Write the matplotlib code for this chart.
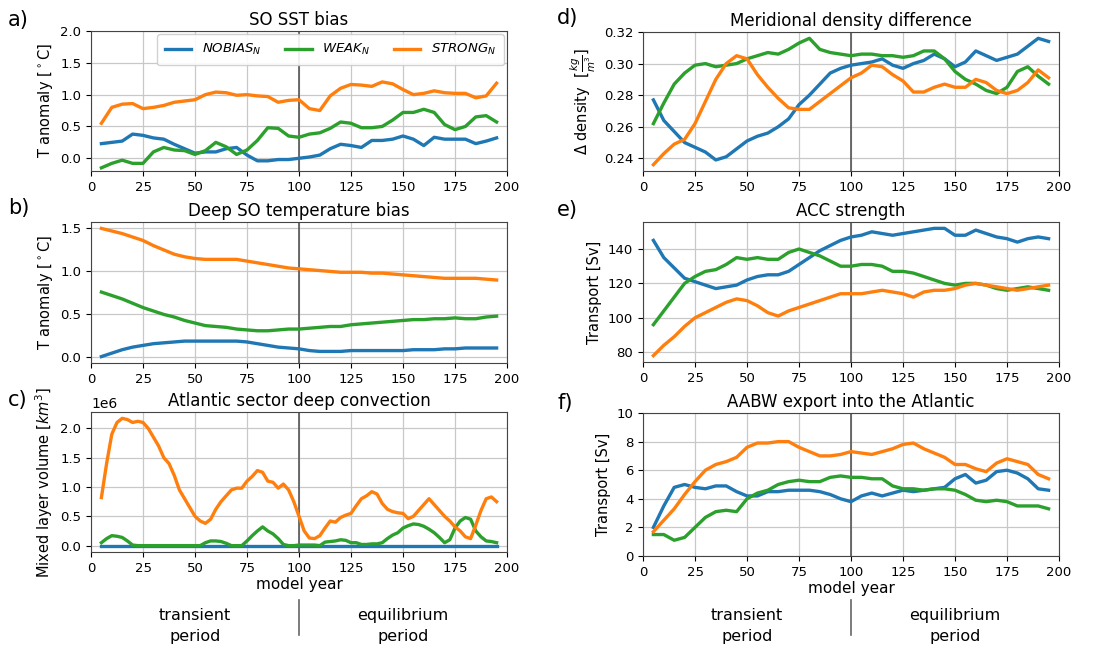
import numpy as np
import matplotlib
matplotlib.use("Agg")
import matplotlib.pyplot as plt
from matplotlib.lines import Line2D
from matplotlib.transforms import blended_transform_factory

# ---------------- data ----------------
years = list(range(5, 200, 5))                       # 5 .. 195 step 5
years_c = [5 + 2.5 * i for i in range(77)]           # 5 .. 195 step 2.5 (panel c)

series_names = [r"$NOBIAS_N$", r"$WEAK_N$", r"$STRONG_N$"]
colors = ["#1f77b4", "#2ca02c", "#ff7f0e"]

# a) SO SST bias
sst_nobias = [0.23, 0.25, 0.27, 0.38, 0.36, 0.32, 0.30, 0.22, 0.15, 0.08,
              0.10, 0.10, 0.15, 0.17, 0.05, -0.04, -0.04, -0.02, -0.02, 0.00,
              0.02, 0.05, 0.15, 0.22, 0.20, 0.17, 0.28, 0.28, 0.30, 0.35,
              0.30, 0.20, 0.33, 0.30, 0.30, 0.30, 0.23, 0.27, 0.32]
sst_weak = [-0.15, -0.08, -0.03, -0.08, -0.08, 0.10, 0.17, 0.13, 0.12, 0.06,
            0.12, 0.25, 0.18, 0.06, 0.13, 0.28, 0.48, 0.47, 0.35, 0.33,
            0.38, 0.40, 0.47, 0.57, 0.55, 0.48, 0.48, 0.50, 0.60, 0.72,
            0.72, 0.77, 0.72, 0.53, 0.45, 0.50, 0.65, 0.67, 0.57]
sst_strong = [0.55, 0.80, 0.85, 0.86, 0.78, 0.80, 0.83, 0.88, 0.90, 0.92,
              1.00, 1.04, 1.03, 0.99, 1.00, 0.98, 0.97, 0.88, 0.91, 0.92,
              0.78, 0.75, 0.98, 1.10, 1.16, 1.15, 1.13, 1.20, 1.17, 1.08,
              1.00, 1.02, 1.06, 1.03, 1.02, 1.02, 0.95, 0.98, 1.18]

# b) Deep SO temperature bias
deep_nobias = [0.01, 0.05, 0.09, 0.12, 0.14, 0.16, 0.17, 0.18, 0.19, 0.19,
               0.19, 0.19, 0.19, 0.19, 0.18, 0.16, 0.14, 0.12, 0.11, 0.10,
               0.08, 0.07, 0.07, 0.07, 0.08, 0.08, 0.08, 0.08, 0.08, 0.08,
               0.09, 0.09, 0.09, 0.10, 0.10, 0.11, 0.11, 0.11, 0.11]
deep_weak = [0.76, 0.72, 0.68, 0.63, 0.58, 0.54, 0.50, 0.47, 0.43, 0.40,
             0.37, 0.36, 0.35, 0.33, 0.32, 0.31, 0.31, 0.32, 0.33, 0.33,
             0.34, 0.35, 0.36, 0.36, 0.38, 0.39, 0.40, 0.41, 0.42, 0.43,
             0.44, 0.44, 0.45, 0.45, 0.46, 0.45, 0.45, 0.47, 0.48]
deep_strong = [1.50, 1.47, 1.44, 1.40, 1.36, 1.30, 1.25, 1.20, 1.17, 1.15,
               1.14, 1.14, 1.14, 1.14, 1.12, 1.10, 1.08, 1.06, 1.04, 1.03,
               1.02, 1.01, 1.00, 0.99, 0.99, 0.99, 0.98, 0.98, 0.97, 0.96,
               0.95, 0.94, 0.93, 0.92, 0.92, 0.92, 0.92, 0.91, 0.90]

# c) Atlantic sector deep convection (1e6 km^3), step 2.5 years
conv_nobias = [0.0] * 77
conv_weak = [0.05, 0.12, 0.17, 0.16, 0.14, 0.08, 0.01, 0.0, 0.0, 0.0,      # 5 - 27.5
             0.0, 0.0, 0.0, 0.0, 0.0, 0.0, 0.0, 0.0, 0.0, 0.0,             # 30 - 52.5
             0.05, 0.08, 0.08, 0.07, 0.04, 0.0, 0.0, 0.0, 0.08, 0.17,      # 55 - 77.5
             0.25, 0.32, 0.25, 0.20, 0.12, 0.02, 0.0, 0.0, 0.01, 0.01,     # 80 - 102.5
             0.01, 0.01, 0.0, 0.06, 0.07, 0.08, 0.10, 0.09, 0.05, 0.05,    # 105 - 127.5
             0.02, 0.02, 0.03, 0.03, 0.05, 0.12, 0.18, 0.22, 0.30, 0.34,   # 130 - 152.5
             0.37, 0.36, 0.33, 0.28, 0.22, 0.14, 0.05, 0.10, 0.30, 0.42,   # 155 - 177.5
             0.48, 0.45, 0.25, 0.15, 0.08, 0.07, 0.05]                     # 180 - 195
conv_strong = [0.82, 1.4, 1.9, 2.1, 2.17, 2.15, 2.1, 2.12, 2.1, 2.0,
               1.85, 1.7, 1.5, 1.4, 1.2, 0.95, 0.8, 0.65, 0.5, 0.42,
               0.38, 0.45, 0.62, 0.75, 0.85, 0.95, 0.98, 0.98, 1.1, 1.18,
               1.28, 1.25, 1.1, 1.08, 0.98, 1.05, 0.95, 0.75, 0.5, 0.25,
               0.13, 0.12, 0.17, 0.3, 0.42, 0.4, 0.48, 0.52, 0.55, 0.68,
               0.8, 0.85, 0.92, 0.88, 0.72, 0.62, 0.58, 0.56, 0.55, 0.46,
               0.5, 0.6, 0.7, 0.8, 0.7, 0.6, 0.5, 0.42, 0.32, 0.25,
               0.15, 0.12, 0.35, 0.6, 0.8, 0.83, 0.75]

# d) Meridional density difference (kg/m^3)
dens_nobias = [0.277, 0.264, 0.257, 0.250, 0.247, 0.244, 0.239, 0.241, 0.246, 0.251,
               0.254, 0.256, 0.260, 0.265, 0.274, 0.280, 0.287, 0.294, 0.297, 0.299,
               0.300, 0.301, 0.303, 0.299, 0.297, 0.300, 0.302, 0.306, 0.303, 0.298,
               0.301, 0.308, 0.305, 0.302, 0.304, 0.306, 0.311, 0.316, 0.314]
dens_weak = [0.262, 0.275, 0.287, 0.294, 0.299, 0.300, 0.298, 0.299, 0.300, 0.303,
             0.305, 0.307, 0.306, 0.309, 0.313, 0.316, 0.309, 0.307, 0.306, 0.305,
             0.306, 0.306, 0.305, 0.305, 0.304, 0.305, 0.308, 0.308, 0.303, 0.295,
             0.290, 0.287, 0.283, 0.281, 0.285, 0.295, 0.298, 0.292, 0.287]
dens_strong = [0.236, 0.243, 0.249, 0.252, 0.262, 0.276, 0.290, 0.300, 0.305, 0.303,
               0.293, 0.285, 0.278, 0.272, 0.271, 0.271, 0.276, 0.281, 0.286, 0.291,
               0.294, 0.299, 0.298, 0.293, 0.289, 0.282, 0.282, 0.285, 0.287, 0.285,
               0.285, 0.290, 0.288, 0.283, 0.281, 0.283, 0.288, 0.296, 0.291]

# e) ACC strength (Sv)
acc_nobias = [145, 135, 129, 123, 121, 119, 117, 118, 119, 122,
              124, 125, 125, 127, 131, 135, 139, 142, 145, 147,
              148, 150, 149, 148, 149, 150, 151, 152, 152, 148,
              148, 151, 149, 147, 146, 144, 146, 147, 146]
acc_weak = [96, 104, 112, 120, 124, 127, 128, 131, 135, 134,
            135, 134, 134, 138, 140, 138, 136, 133, 130, 130,
            131, 131, 130, 127, 127, 126, 124, 122, 120, 119,
            120, 120, 119, 117, 116, 117, 118, 117, 116]
acc_strong = [78, 84, 89, 95, 100, 103, 106, 109, 111, 110,
              107, 103, 101, 104, 106, 108, 110, 112, 114, 114,
              114, 115, 116, 115, 114, 112, 115, 116, 116, 117,
              119, 120, 119, 118, 117, 116, 117, 118, 119]

# f) AABW export into the Atlantic (Sv)
aabw_nobias = [2.0, 3.5, 4.8, 5.0, 4.8, 4.7, 4.9, 4.9, 4.5, 4.2,
               4.2, 4.5, 4.5, 4.6, 4.6, 4.6, 4.5, 4.3, 4.0, 3.8,
               4.2, 4.4, 4.2, 4.4, 4.6, 4.5, 4.6, 4.7, 4.8, 5.4,
               5.7, 5.1, 5.3, 5.9, 6.0, 5.8, 5.4, 4.7, 4.6]
aabw_weak = [1.5, 1.5, 1.1, 1.3, 2.0, 2.7, 3.1, 3.2, 3.1, 4.0,
             4.4, 4.6, 5.0, 5.2, 5.3, 5.2, 5.2, 5.5, 5.6, 5.5,
             5.5, 5.4, 5.4, 4.9, 4.7, 4.7, 4.6, 4.7, 4.7, 4.6,
             4.3, 3.9, 3.8, 3.9, 3.8, 3.5, 3.5, 3.5, 3.3]
aabw_strong = [1.7, 2.5, 3.3, 4.3, 5.2, 6.0, 6.4, 6.6, 6.9, 7.6,
               7.9, 7.9, 8.0, 8.0, 7.6, 7.3, 7.0, 7.0, 7.1, 7.3,
               7.2, 7.1, 7.3, 7.5, 7.8, 7.9, 7.5, 7.2, 6.9, 6.4,
               6.4, 6.1, 5.9, 6.5, 6.8, 6.6, 6.4, 5.7, 5.4]

titles = ["SO SST bias", "Deep SO temperature bias", "Atlantic sector deep convection",
          "Meridional density difference", "ACC strength", "AABW export into the Atlantic"]
ylabels = [r"T anomaly [$^\circ$C]", r"T anomaly [$^\circ$C]", r"Mixed layer volume [$km^3$]",
           r"$\Delta$ density  $[\frac{kg}{m^3}]$", "Transport [Sv]", "Transport [Sv]"]
letters = ["a)", "b)", "c)", "d)", "e)", "f)"]
xticks = [0, 25, 50, 75, 100, 125, 150, 175, 200]

# ---------------- figure ----------------
plt.rcParams["font.family"] = ["DejaVu Sans"]
fig = plt.figure(figsize=(11.03, 6.52), dpi=100)

W, H = 1103.0, 652.0
def box(l, t, r, b):
    return [l / W, 1 - b / H, (r - l) / W, (b - t) / H]

rects = [box(91, 31, 507, 171), box(91, 222, 507, 363), box(91, 412, 507, 552),
         box(643, 32, 1059, 171), box(643, 222, 1059, 362), box(643, 413, 1059, 556)]

data = [
    (years, [sst_nobias, sst_weak, sst_strong]),
    (years, [deep_nobias, deep_weak, deep_strong]),
    (years_c, [conv_nobias, conv_weak, conv_strong]),
    (years, [dens_nobias, dens_weak, dens_strong]),
    (years, [acc_nobias, acc_weak, acc_strong]),
    (years, [aabw_nobias, aabw_weak, aabw_strong]),
]

axes = []
for i, (rect, (xs, ys)) in enumerate(zip(rects, data)):
    ax = fig.add_axes(rect)
    axes.append(ax)
    for k, (y, c, name) in enumerate(zip(ys, colors, series_names)):
        yy = np.array(y, dtype=float)
        if i == 2:
            yy = yy * 1e6
        ax.plot(xs, yy, color=c, lw=2.4, label=name, zorder=3)
    ax.axvline(100, color="#555555", lw=1.2, zorder=2)
    ax.set_xlim(0, 200)
    ax.set_xticks(xticks)
    ax.grid(True, color="#c8c8c8", lw=0.9)
    ax.set_axisbelow(True)
    ax.tick_params(labelsize=9.5, length=3.5)
    ax.set_title(titles[i], fontsize=12, pad=4)
    ax.set_ylabel(ylabels[i], fontsize=10.5)
    for sp in ax.spines.values():
        sp.set_color("#444444")

axes[0].set_ylim(-0.2, 2.0)
axes[0].set_yticks([0.0, 0.5, 1.0, 1.5, 2.0])
axes[0].legend(loc="upper right", ncol=3, fontsize=9.5, handlelength=2.0,
               columnspacing=1.8, framealpha=0.9, borderaxespad=0.25, borderpad=0.6)
axes[1].set_yticks([0.0, 0.5, 1.0, 1.5])
axes[2].set_yticks([0, 0.5e6, 1.0e6, 1.5e6, 2.0e6])
axes[3].set_yticks([0.24, 0.26, 0.28, 0.30, 0.32])
axes[4].set_yticks([80, 100, 120, 140])
axes[5].set_ylim(0, 10)
axes[5].set_yticks([0, 2, 4, 6, 8, 10])

for ax in (axes[2], axes[5]):
    ax.set_xlabel("model year", fontsize=11, labelpad=2)

# panel letters
letter_pos = [(8, 20), (8, 208), (8, 400), (557, 18), (557, 210), (557, 403)]
for lt, (px, py) in zip(letters, letter_pos):
    fig.text(px / W, 1 - py / H, lt, fontsize=15, ha="left", va="center")

# transient / equilibrium annotations (x in data, y in figure coords)
for ax in (axes[2], axes[5]):
    tr = blended_transform_factory(ax.transData, fig.transFigure)
    ax.text(50, 1 - 626 / H, "transient\nperiod", transform=tr, ha="center", va="center",
            fontsize=11.5, linespacing=1.55)
    ax.text(150, 1 - 626 / H, "equilibrium\nperiod", transform=tr, ha="center", va="center",
            fontsize=11.5, linespacing=1.55)
    ax.add_line(Line2D([100, 100], [1 - 600 / H, 1 - 635 / H], transform=tr,
                       color="#666666", lw=1.2, clip_on=False))

fig.savefig("out.png", dpi=100)
